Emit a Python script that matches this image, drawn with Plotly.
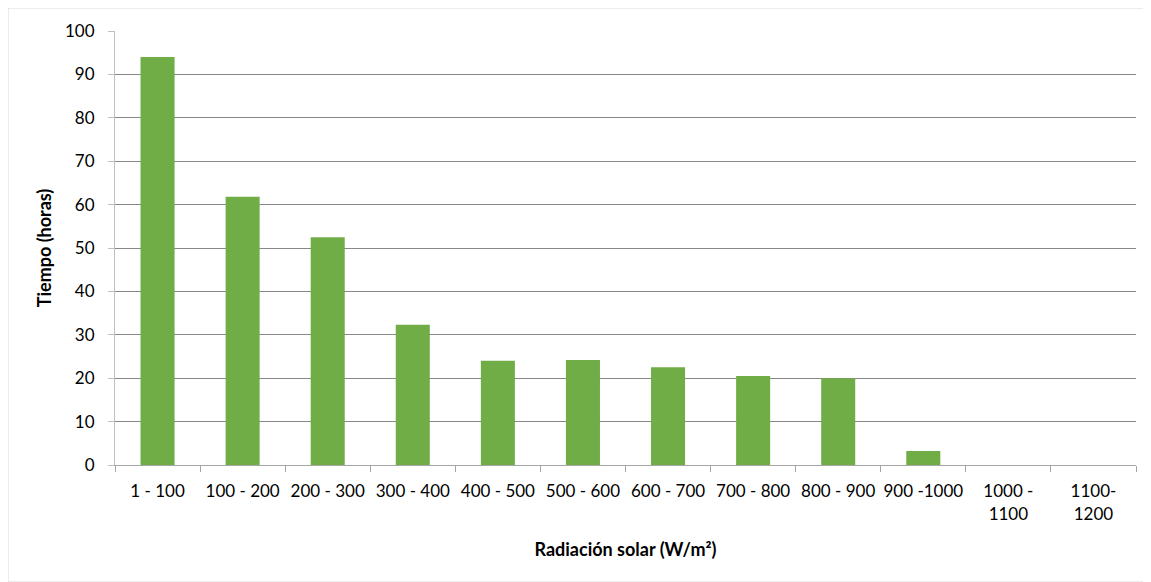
import plotly.graph_objects as go

categories = ["1 - 100", "100 - 200", "200 - 300", "300 - 400", "400 - 500", "500 - 600",
              "600 - 700", "700 - 800", "800 - 900", "900 -1000", "1000 -<br>1100", "1100-<br>1200"]
values = [94.0, 61.8, 52.5, 32.3, 24.0, 24.2, 22.5, 20.5, 20.0, 3.2, 0, 0]
y_ticks = list(range(0, 101, 10))

W, H = 1151, 582
OFF = 7  # page offset of the rendered figure
L, R, T, B = 114 - OFF, 16 + OFF, 30 - OFF, 118 + OFF
pw, ph = W - L - R, H - T - B

fig = go.Figure(go.Bar(x=categories, y=values, marker_color="#70AD47", width=0.4,
                       marker_line_width=0))

font = "Lato, 'Open Sans', sans-serif"
fig.update_layout(
    width=W, height=H, margin=dict(l=L, r=R, t=T, b=B),
    plot_bgcolor="white", paper_bgcolor="white",
    font=dict(family=font, size=17, color="#000000"),
    showlegend=False,
    xaxis=dict(type="category", showline=True, linecolor="#A6A6A6", linewidth=1,
               ticks="outside", ticklen=6, tickcolor="#A6A6A6", tickson="boundaries",
               showgrid=False, tickfont=dict(size=17), ticklabelstandoff=11, tickangle=0,
               title=dict(text="<b>Radiación solar (W/m²)</b>", font=dict(size=18), standoff=20)),
    yaxis=dict(range=[0, 100], tickvals=y_ticks, showline=True, linecolor="#BFBFBF",
               ticks="outside", ticklen=6, tickcolor="#BFBFBF",
               showgrid=True, gridcolor="#888888", gridwidth=1, zeroline=False,
               tickfont=dict(size=17), ticklabelstandoff=10,
               title=dict(text="<b>Tiempo (horas)</b>", font=dict(size=18), standoff=8)),
    shapes=[dict(type="rect", xref="paper", yref="paper",
                 x0=(0 - L) / pw, x1=(1143 - L) / pw,
                 y0=(T + ph - 574) / ph, y1=(T + ph - 0) / ph,
                 line=dict(color="#D9D9D9", width=1), fillcolor="rgba(0,0,0,0)", layer="below")],
)

fig.write_html("out.html")
